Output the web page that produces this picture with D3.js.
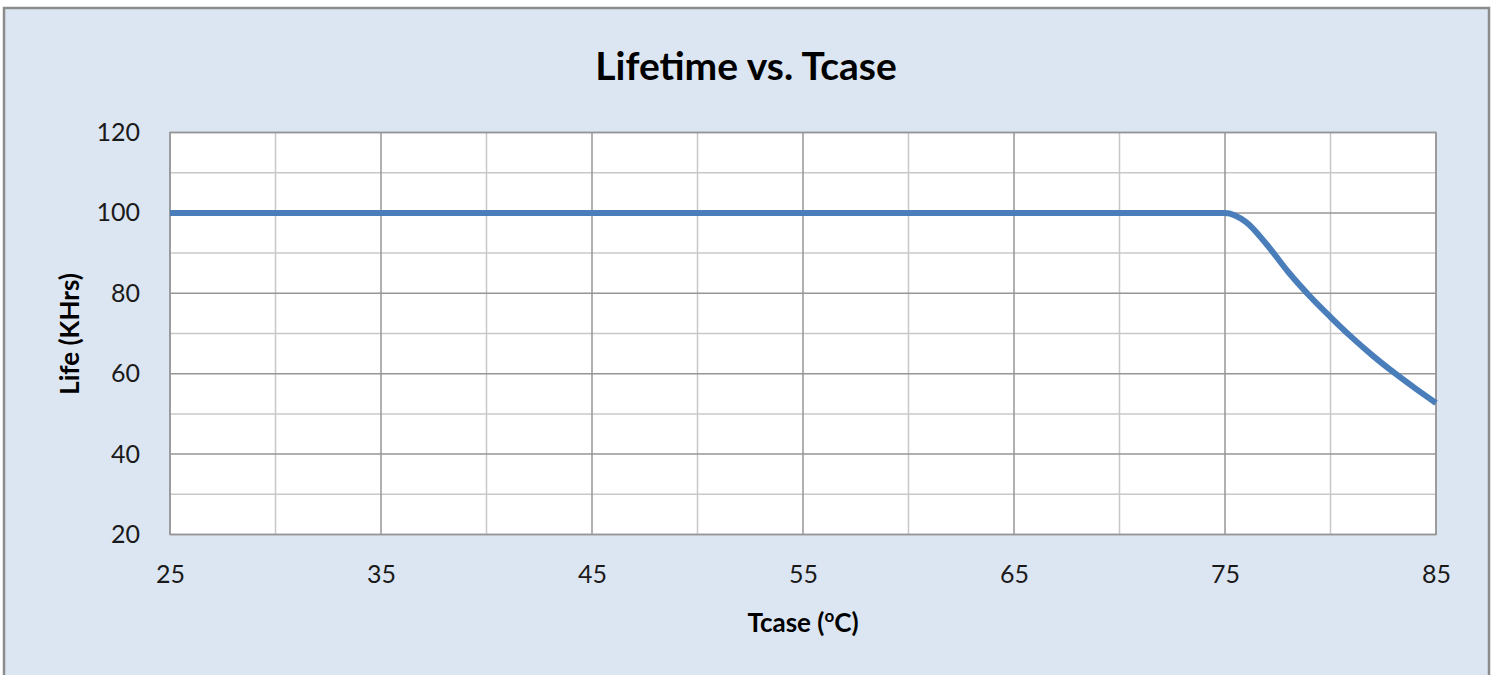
<!DOCTYPE html>
<html><head><meta charset="utf-8">
<script src="https://cdn.jsdelivr.net/npm/d3@7"></script>
<style>html,body{margin:0;padding:0;background:#fff;}svg{display:block;}</style>
</head><body>
<script>
const tcase = [25,30,35,40,45,50,55,60,65,70,75,76,77,78,79,80,81,82,83,84,85];
const life  = [100,100,100,100,100,100,100,100,100,100,100,97.7,92,85.3,79.4,74.1,69.1,64.5,60.3,56.4,52.7];
const xTicks = [25,35,45,55,65,75,85];
const yTicks = [20,40,60,80,100,120];
const title = "Lifetime vs. Tcase";
const yLabel = "Life (KHrs)";

const W = 1498, H = 675;
const font = "Lato, 'Open Sans', sans-serif";
const svg = d3.select("body").append("svg").attr("width", W).attr("height", H);

svg.append("rect").attr("x", 4).attr("y", 8).attr("width", 1485).attr("height", 700)
  .attr("fill", "#dce6f2").attr("stroke", "#8c8c8c").attr("stroke-width", 2.5);

const L = 170, R = 1436, T = 132.5, B = 534.5;
const x = d3.scaleLinear().domain([25, 85]).range([L, R]);
const y = d3.scaleLinear().domain([20, 120]).range([B, T]);

svg.append("rect").attr("x", L).attr("y", T).attr("width", R - L).attr("height", B - T).attr("fill", "#fff");

// minor grid
const g = svg.append("g");
g.selectAll(".vx").data(d3.range(30, 85, 10)).join("line")
  .attr("x1", d => x(d)).attr("x2", d => x(d)).attr("y1", T).attr("y2", B)
  .attr("stroke", "#c8c8c8").attr("stroke-width", 1.5);
g.selectAll(".hy").data(d3.range(30, 120, 20)).join("line")
  .attr("y1", d => y(d)).attr("y2", d => y(d)).attr("x1", L).attr("x2", R)
  .attr("stroke", "#c8c8c8").attr("stroke-width", 1.5);
// major grid
g.selectAll(".vX").data(xTicks).join("line")
  .attr("x1", d => x(d)).attr("x2", d => x(d)).attr("y1", T).attr("y2", B)
  .attr("stroke", "#969696").attr("stroke-width", 1.5);
g.selectAll(".hY").data(yTicks).join("line")
  .attr("y1", d => y(d)).attr("y2", d => y(d)).attr("x1", L).attr("x2", R)
  .attr("stroke", "#969696").attr("stroke-width", 1.5);
svg.append("rect").attr("x", L).attr("y", T).attr("width", R - L).attr("height", B - T)
  .attr("fill", "none").attr("stroke", "#969696").attr("stroke-width", 1.5);

// axes labels
const xAxis = d3.axisBottom(x).tickValues(xTicks).tickSize(0).tickPadding(31);
svg.append("g").attr("transform", `translate(0,${B})`).call(xAxis)
  .call(a => a.select(".domain").remove())
  .selectAll("text").attr("font-family", font).attr("font-size", 25).attr("fill", "#1a1a1a");
const yAxis = d3.axisLeft(y).tickValues(yTicks).tickSize(0).tickPadding(30);
svg.append("g").attr("transform", `translate(${L},0)`).call(yAxis)
  .call(a => a.select(".domain").remove())
  .selectAll("text").attr("font-family", font).attr("font-size", 25).attr("fill", "#1a1a1a");

// line
const line = d3.line().x((d, i) => x(tcase[i])).y(d => y(d)).curve(d3.curveMonotoneX);
svg.append("path").attr("d", line(life)).attr("fill", "none")
  .attr("stroke", "#4a7ebb").attr("stroke-width", 6).attr("stroke-linecap", "butt");

// title
svg.append("text").attr("x", 746).attr("y", 80).attr("text-anchor", "middle")
  .attr("font-family", font).attr("font-weight", "bold").attr("font-size", 39).attr("fill", "#000").text(title);

// y label
svg.append("text").attr("transform", "translate(79,334) rotate(-90)").attr("text-anchor", "middle")
  .attr("font-family", font).attr("font-weight", "bold").attr("font-size", 26).attr("fill", "#000").text(yLabel);

// x label
const xl = svg.append("text").attr("x", 803).attr("y", 632).attr("text-anchor", "middle")
  .attr("font-family", font).attr("font-weight", "bold").attr("font-size", 26).attr("fill", "#000");
xl.append("tspan").text("Tcase (");
xl.append("tspan").attr("font-size", 17).attr("dy", -10).text("o");
xl.append("tspan").attr("dy", 10).text("C)");
</script>
</body></html>
